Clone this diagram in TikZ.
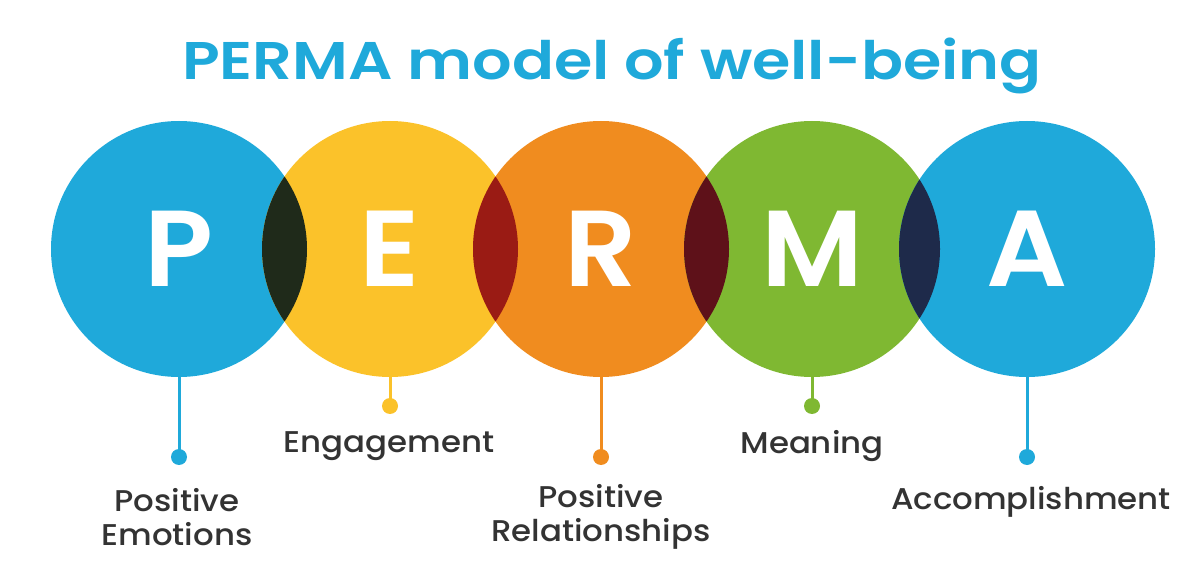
\documentclass[tikz,border=0pt]{standalone}
\usepackage{fontspec}
\IfFontExistsTF{Poppins SemiBold}{\newfontfamily\popsb{Poppins SemiBold}}{\newfontfamily\popsb{Poppins}[FakeBold=2]}
\IfFontExistsTF{Poppins Medium}{\newfontfamily\popm{Poppins Medium}}{\newfontfamily\popm{Poppins}[FakeBold=1]}
\definecolor{pblue}{HTML}{1FA9DA}
\definecolor{pyellow}{HTML}{FBC22A}
\definecolor{porange}{HTML}{F08C1F}
\definecolor{pgreen}{HTML}{7FB832}
\definecolor{ovA}{HTML}{1F2A1A}
\definecolor{ovB}{HTML}{9A1B14}
\definecolor{ovC}{HTML}{5E1119}
\definecolor{ovD}{HTML}{1E2A4A}
\definecolor{ptext}{HTML}{333333}
\newcommand{\wide}[2]{\scalebox{#1}[1]{#2}}
\begin{document}
\begin{tikzpicture}[x=1pt,y=-1pt,
  bigc/.style={circle,minimum size=256pt,inner sep=0pt,fill=#1},
  letter/.style={text=white,font=\popsb\fontsize{108}{108}\selectfont,inner sep=0pt},
  stem/.style={draw=#1,line width=3pt},
  dotn/.style={circle,fill=#1,minimum size=16pt,inner sep=0pt},
  lbl/.style={text=ptext,font=\popm\fontsize{30}{34}\selectfont,align=center,inner sep=0pt}]
\useasboundingbox (0,0) rectangle (1200,561);
\node[text=pblue,font=\popsb\fontsize{53}{53}\selectfont,inner sep=0pt] (title) at (612,66) {\wide{1.17}{PERMA model of well-being}};
% circles
\node[bigc=pblue] (P) at (179,249) {};
\node[bigc=pyellow] (E) at (390,249) {};
\node[bigc=porange] (R) at (601,249) {};
\node[bigc=pgreen] (M) at (812,249) {};
\node[bigc=pblue] (A) at (1027,249) {};
% overlaps
\begin{scope}\clip (179,249) circle (128pt); \fill[ovA] (390,249) circle (128pt);\end{scope}
\begin{scope}\clip (390,249) circle (128pt); \fill[ovB] (601,249) circle (128pt);\end{scope}
\begin{scope}\clip (601,249) circle (128pt); \fill[ovC] (812,249) circle (128pt);\end{scope}
\begin{scope}\clip (812,249) circle (128pt); \fill[ovD] (1027,249) circle (128pt);\end{scope}
% letters
\foreach \n/\l in {P/P,E/E,R/R,M/M,A/A}{
  \node[letter] (L\n) at (\n.center) {\wide{1.05}{\l}};
}
% dots
\node[dotn=pblue] (dP) at (179,457) {};
\node[dotn=pyellow] (dE) at (390,406) {};
\node[dotn=porange] (dR) at (601,457) {};
\node[dotn=pgreen] (dM) at (812,406) {};
\node[dotn=pblue] (dA) at (1027,457) {};
\draw[stem=pblue] (P.south) -- (dP.center);
\draw[stem=pyellow] (E.south) -- (dE.center);
\draw[stem=porange] (R.south) -- (dR.center);
\draw[stem=pgreen] (M.south) -- (dM.center);
\draw[stem=pblue] (A.south) -- (dA.center);
% labels
\node[lbl] (tP) at (177,517) {\wide{1.08}{Positive}\\\wide{1.08}{Emotions}};
\node[lbl] (tE) at (389,446) {\wide{1.08}{Engagement}};
\node[lbl] (tR) at (601,517) {\wide{1.08}{Positive}\\\wide{1.08}{Relationships}};
\node[lbl] (tM) at (812,446) {\wide{1.08}{Meaning}};
\node[lbl] (tA) at (1031,502) {\wide{1.08}{Accomplishment}};
\end{tikzpicture}
\end{document}
